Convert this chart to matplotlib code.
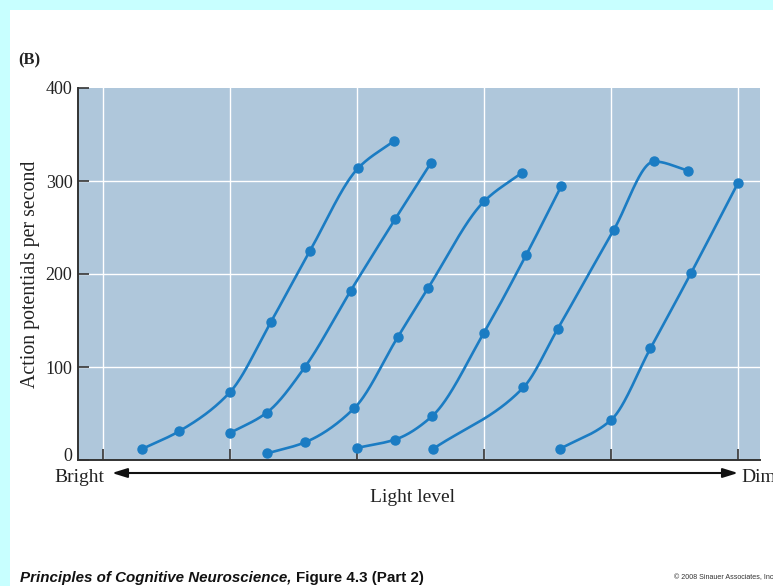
import numpy as np
import matplotlib
matplotlib.use("Agg")
import matplotlib.pyplot as plt
from matplotlib.patches import Rectangle

# Firing-rate curves for six photoreceptor/adaptation states (light level in arbitrary steps)
curve1_x = [0.31, 0.60, 1.00, 1.32, 1.63, 2.01, 2.29]
curve1_y = [12, 31, 73, 148, 225, 314, 343]
curve2_x = [1.00, 1.29, 1.59, 1.95, 2.30, 2.58]
curve2_y = [29, 51, 100, 182, 259, 319]
curve3_x = [1.29, 1.59, 1.98, 2.32, 2.56, 3.00, 3.30]
curve3_y = [7, 19, 56, 132, 185, 278, 309]
curve4_x = [2.00, 2.30, 2.59, 3.00, 3.33, 3.61]
curve4_y = [13, 22, 47, 137, 220, 295]
curve5_x = [2.60, 3.31, 3.58, 4.02, 4.34, 4.61]
curve5_y = [12, 78, 141, 247, 321, 311]
curve6_x = [3.60, 4.00, 4.31, 4.63, 5.00]
curve6_y = [12, 43, 120, 201, 298]

y_ticks = [0, 100, 200, 300, 400]
x_grid = [0, 1, 2, 3, 4, 5]

SERIF = ["Liberation Serif", "DejaVu Serif"]
SANS = ["Liberation Sans", "DejaVu Sans"]
LINE_BLUE = "#1b7cc3"
INK = "#222222"


def pchip(x, y, xs):
    """Monotone piecewise cubic Hermite curve through (x, y)."""
    x = np.asarray(x, float)
    y = np.asarray(y, float)
    h = np.diff(x)
    d = np.diff(y) / h
    n = len(x)
    m = np.zeros(n)
    for k in range(1, n - 1):
        if d[k - 1] * d[k] <= 0:
            m[k] = 0.0
        else:
            w1 = 2 * h[k] + h[k - 1]
            w2 = h[k] + 2 * h[k - 1]
            m[k] = (w1 + w2) / (w1 / d[k - 1] + w2 / d[k])
    m[0] = d[0]
    m[-1] = d[-1]
    idx = np.clip(np.searchsorted(x, xs) - 1, 0, n - 2)
    t = (xs - x[idx]) / h[idx]
    h00 = 2 * t**3 - 3 * t**2 + 1
    h10 = t**3 - 2 * t**2 + t
    h01 = -2 * t**3 + 3 * t**2
    h11 = t**3 - t**2
    return (h00 * y[idx] + h10 * h[idx] * m[idx]
            + h01 * y[idx + 1] + h11 * h[idx] * m[idx + 1])


W, H = 773, 586
fig = plt.figure(figsize=(W / 100, H / 100), dpi=100)
fig.patch.set_facecolor("#c8ffff")
fig.patches.append(Rectangle((10 / W, 0), 1, (H - 10) / H, transform=fig.transFigure,
                             facecolor="white", edgecolor="none", zorder=-10))

ax = fig.add_axes([78 / W, 126 / H, 682 / W, 372 / H])
ax.set_facecolor("#afc7db")
ax.set_xlim(-0.197, 5.173)
ax.set_ylim(0, 400)

for xv in x_grid:
    ax.axvline(xv, color="white", lw=1.0, zorder=1)
for yv in y_ticks[1:-1]:
    ax.axhline(yv, color="white", lw=1.0, zorder=1)

curves = [(curve1_x, curve1_y), (curve2_x, curve2_y), (curve3_x, curve3_y),
          (curve4_x, curve4_y), (curve5_x, curve5_y), (curve6_x, curve6_y)]
for cx, cy in curves:
    xs = np.linspace(cx[0], cx[-1], 300)
    ax.plot(xs, pchip(cx, cy, xs), color=LINE_BLUE, lw=1.9, zorder=3,
            solid_capstyle="round")
    ax.plot(cx, cy, "o", color=LINE_BLUE, ms=6.5, zorder=4)

for side in ("top", "right"):
    ax.spines[side].set_visible(False)
for side in ("left", "bottom"):
    ax.spines[side].set_color("#333333")
    ax.spines[side].set_linewidth(1.4)

# the zero label is drawn separately, nudged up so it clears "Bright"
ax.set_yticks(y_ticks)
ax.set_yticklabels(["" if v == 0 else str(v) for v in y_ticks], family=SERIF,
                   fontsize=13, color=INK)
ax.tick_params(axis="y", direction="in", length=8, width=1.2, color="#333333", pad=4)
ax.annotate(str(y_ticks[0]), xy=(0, y_ticks[0]), xycoords=("axes fraction", "data"),
            xytext=(-4, 2.5), textcoords="offset points", ha="right", va="center",
            family=SERIF, fontsize=13, color=INK, annotation_clip=False)
ax.set_xticks(x_grid)
ax.set_xticklabels([])
ax.tick_params(axis="x", direction="in", length=8, width=1.2, color="#333333")

ax.set_ylabel("Action potentials per second", family=SERIF, fontsize=14.3,
              color=INK, labelpad=4)

# Light-level axis with double arrow below the plot
ax.annotate("", xy=(738, H - 473), xytext=(112, H - 473), xycoords="figure pixels",
            textcoords="figure pixels",
            arrowprops=dict(arrowstyle="<|-|>,head_length=0.9,head_width=0.28",
                            color="#111111", lw=1.5, shrinkA=0, shrinkB=0))
fig.text(104 / W, 1 - 477 / H, "Bright", family=SERIF, fontsize=14, color=INK,
         ha="right", va="center")
fig.text(741 / W, 1 - 477 / H, "Dim", family=SERIF, fontsize=14, color=INK,
         ha="left", va="center")
fig.text(412 / W, 1 - 497 / H, "Light level", family=SERIF, fontsize=14, color=INK,
         ha="center", va="center")

fig.text(18 / W, 1 - 60 / H, "(B)", family=SERIF, fontsize=12, fontweight="bold",
         color=INK, ha="left", va="center")

# Caption in two styles
fig.canvas.draw()
renderer = fig.canvas.get_renderer()
t1 = fig.text(20 / W, 1 - 578 / H, "Principles of Cognitive Neuroscience,",
              family=SANS, fontsize=10.9, fontweight="bold", fontstyle="italic",
              color="#111111", ha="left", va="center")
bb = t1.get_window_extent(renderer)
fig.text((bb.x1 + 4) / W, 1 - 578 / H, "Figure 4.3 (Part 2)",
         family=SANS, fontsize=10.9, fontweight="bold",
         color="#111111", ha="left", va="center")
fig.text(674 / W, 1 - 578 / H, "\u00a9 2008 Sinauer Associates, Inc.",
         family=SANS, fontsize=5.1, color="#333333", ha="left", va="center")

fig.savefig("out.png", dpi=100, facecolor=fig.get_facecolor())
